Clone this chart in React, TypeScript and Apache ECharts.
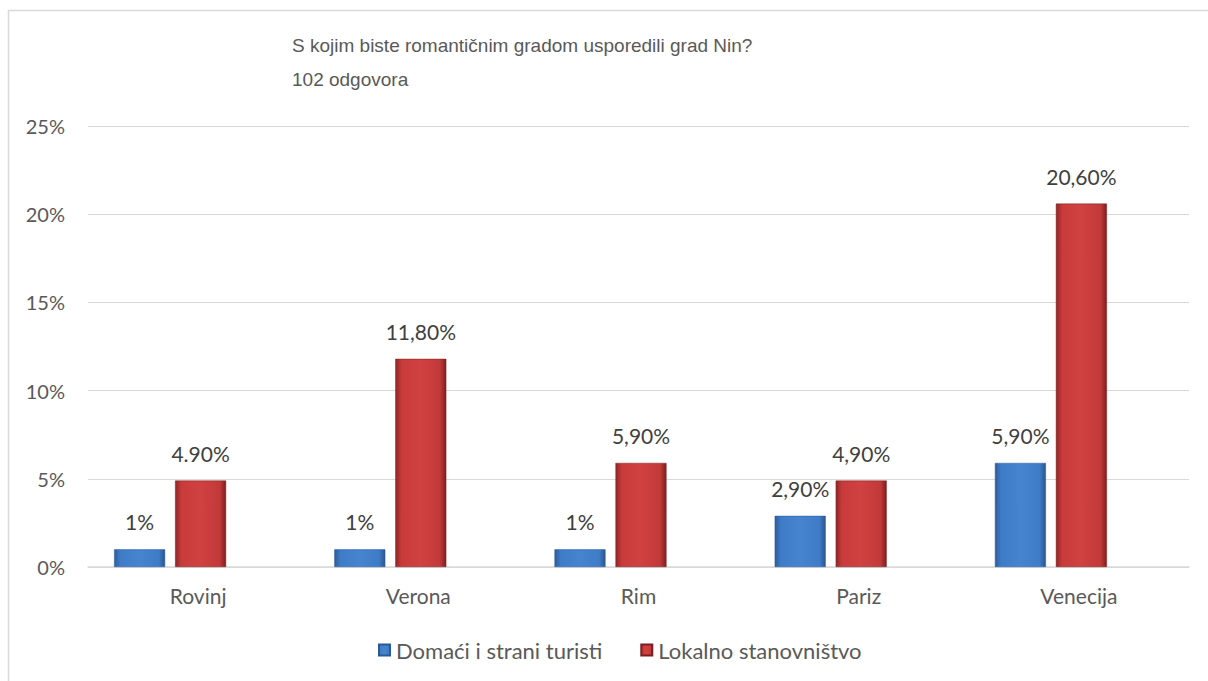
import React, { useEffect, useRef } from "react";
import * as echarts from "echarts";

const categories = ["Rovinj", "Verona", "Rim", "Pariz", "Venecija"];
const touristValues = [1, 1, 1, 2.9, 5.9];
const localValues = [4.9, 11.8, 5.9, 4.9, 20.6];
const touristLabels = ["1%", "1%", "1%", "2,90%", "5,90%"];
const localLabels = ["4.90%", "11,80%", "5,90%", "4,90%", "20,60%"];
const seriesNames = ["Domaći i strani turisti", "Lokalno stanovništvo"];
const yTicks = [0, 5, 10, 15, 20, 25];

const FONT = "Lato, 'Open Sans', sans-serif";

const blueGrad = new echarts.graphic.LinearGradient(0, 0, 1, 0, [
  { offset: 0, color: "#2c5d9c" },
  { offset: 0.12, color: "#3f7cc8" },
  { offset: 0.5, color: "#4684d0" },
  { offset: 0.88, color: "#3f7cc8" },
  { offset: 1, color: "#2a568f" },
]);
const redGrad = new echarts.graphic.LinearGradient(0, 0, 1, 0, [
  { offset: 0, color: "#8f2626" },
  { offset: 0.12, color: "#c93b3b" },
  { offset: 0.5, color: "#d04141" },
  { offset: 0.88, color: "#c23939" },
  { offset: 1, color: "#7e1f1f" },
]);

const dataLabel = (labels: string[]) => ({
  show: true,
  position: "top",
  distance: 17,
  fontFamily: FONT,
  fontSize: 21,
  color: "#404040",
  formatter: (p: any) => labels[p.dataIndex],
});

export default function App() {
  const ref = useRef<HTMLDivElement>(null);
  useEffect(() => {
    const chart = echarts.init(ref.current!, null, { renderer: "svg" });
    chart.setOption({
      animation: false,
      backgroundColor: "#ffffff",
      textStyle: { fontFamily: FONT },
      title: {
        text: "S kojim biste romantičnim gradom usporedili grad Nin?\n102 odgovora",
        left: 287,
        top: 23,
        textStyle: {
          fontFamily: "'Liberation Sans', Arial, sans-serif",
          fontWeight: "normal",
          fontSize: 19,
          lineHeight: 34,
          color: "#595959",
        },
      },
      graphic: [
        {
          type: "polyline",
          shape: { points: [[8.5, 1000], [8.5, 10.5], [1300, 10.5]] },
          style: { stroke: "#d9d9d9", lineWidth: 1.5, fill: "none" },
          silent: true,
        },
      ],
      legend: {
        top: 634,
        left: 373,
        itemWidth: 11,
        itemHeight: 11,
        itemGap: 38,
        icon: "rect",
        textStyle: {
          fontFamily: FONT,
          fontSize: 22,
          color: "#595959",
          padding: [0, 0, 0, 1],
        },
        data: seriesNames,
      },
      grid: [
        { left: 88, right: 19, top: 126, bottom: 114, containLabel: false },
        { left: 60, right: 47, top: 126, bottom: 114, containLabel: false },
      ],
      xAxis: [
        {
          type: "category",
          gridIndex: 0,
          data: categories,
          axisLine: { lineStyle: { color: "#d9d9d9", width: 1.5 } },
          axisTick: { show: false },
          axisLabel: { fontFamily: FONT, fontSize: 21, color: "#595959", margin: 18 },
        },
        {
          type: "category",
          gridIndex: 1,
          data: categories,
          show: false,
        },
      ],
      yAxis: [
        {
          type: "value",
          gridIndex: 0,
          min: 0,
          max: 25,
          interval: 5,
          axisLine: { show: false },
          axisTick: { show: false },
          splitLine: { lineStyle: { color: "#d9d9d9", width: 1.2 } },
          axisLabel: {
            fontFamily: FONT,
            fontSize: 20,
            color: "#595959",
            margin: 23,
            formatter: (v: number) => (yTicks.includes(v) ? v + "%" : ""),
          },
        },
        {
          type: "value",
          gridIndex: 1,
          min: 0,
          max: 25,
          interval: 5,
          show: false,
          splitLine: { show: false },
        },
      ],
      series: [
        {
          name: seriesNames[0],
          type: "bar",
          xAxisIndex: 1,
          yAxisIndex: 1,
          data: touristValues,
          barWidth: 51,
          barGap: "19.6%",
          itemStyle: { color: blueGrad, borderColor: "#2a5a94", borderWidth: 0.5 },
          label: dataLabel(touristLabels),
        },
        {
          name: seriesNames[1],
          type: "bar",
          xAxisIndex: 1,
          yAxisIndex: 1,
          data: localValues,
          barWidth: 51,
          barGap: "19.6%",
          itemStyle: { color: redGrad, borderColor: "#7a1e1e", borderWidth: 0.5 },
          label: dataLabel(localLabels),
        },
      ],
    });
    return () => chart.dispose();
  }, []);
  return (
    <div
      ref={ref}
      style={{ position: "fixed", left: 0, top: 0, width: 1208, height: 681 }}
    />
  );
}
